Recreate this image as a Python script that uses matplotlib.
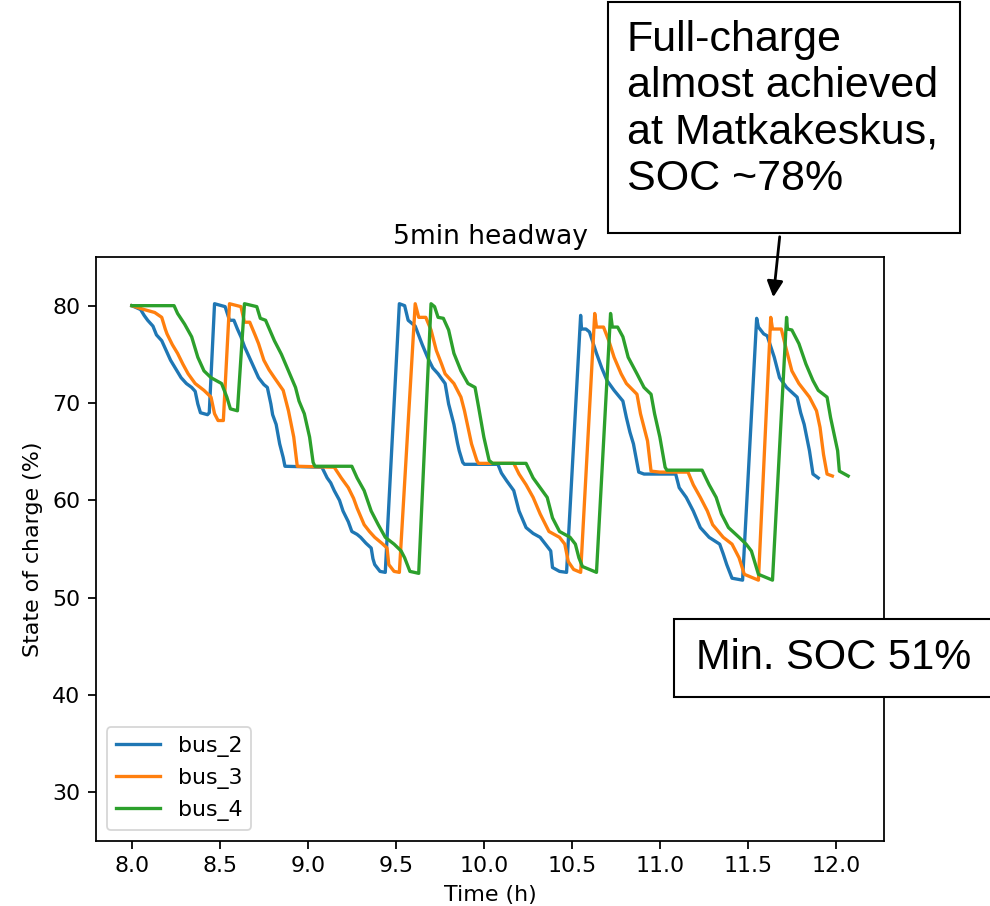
import matplotlib
matplotlib.use("Agg")
import matplotlib.pyplot as plt
from matplotlib.patches import Rectangle, FancyArrowPatch

#-----data-----
t_bus2 = [8.00, 8.05, 8.07, 8.09, 8.12, 8.14, 8.17, 8.20, 8.22, 8.25, 8.28, 8.31, 8.34, 8.36, 8.375, 8.39, 8.43, 8.44,
          8.47, 8.53, 8.555, 8.58, 8.60, 8.62, 8.64, 8.66, 8.69, 8.72, 8.75, 8.77, 8.79, 8.80, 8.82, 8.84, 8.86, 8.87,
          9.08, 9.11, 9.13, 9.15, 9.18, 9.20, 9.23, 9.25, 9.28, 9.30, 9.33, 9.36, 9.37, 9.38, 9.41, 9.44,
          9.52, 9.55, 9.57, 9.59, 9.61, 9.65, 9.68, 9.71, 9.74, 9.78, 9.80, 9.83, 9.85, 9.86, 9.88, 9.89,
          10.08, 10.10, 10.13, 10.17, 10.20, 10.24, 10.28, 10.32, 10.35, 10.38, 10.39, 10.43, 10.47,
          10.55, 10.555, 10.58, 10.60, 10.64, 10.67, 10.70, 10.74, 10.79, 10.81, 10.83, 10.85, 10.88, 10.91,
          11.09, 11.11, 11.15, 11.19, 11.23, 11.28, 11.34, 11.36, 11.38, 11.41, 11.47,
          11.55, 11.56, 11.59, 11.61, 11.65, 11.68, 11.72, 11.78, 11.80, 11.82, 11.85, 11.87, 11.90]
soc_bus2 = [80.0, 79.6, 79.0, 78.5, 77.9, 77.0, 76.4, 75.2, 74.4, 73.5, 72.6, 72.0, 71.6, 71.2, 69.9, 69.0, 68.8, 69.0,
            80.2, 79.9, 78.5, 78.5, 77.6, 76.8, 75.8, 75.0, 73.8, 72.6, 71.9, 71.6, 69.9, 68.8, 67.8, 65.8, 64.4, 63.5,
            63.4, 62.3, 61.8, 61.0, 60.0, 58.9, 57.8, 56.8, 56.5, 56.2, 55.6, 55.1, 54.0, 53.4, 52.7, 52.6,
            80.2, 80.0, 78.5, 78.2, 77.9, 76.0, 74.7, 73.6, 73.0, 72.0, 69.9, 67.8, 65.9, 65.1, 63.9, 63.7,
            63.7, 62.8, 62.0, 61.0, 58.9, 57.2, 56.6, 56.2, 55.5, 54.8, 53.1, 52.7, 52.6,
            79.0, 77.6, 77.6, 77.3, 75.1, 73.6, 72.3, 71.3, 70.2, 68.5, 67.0, 65.8, 62.9, 62.7,
            62.7, 61.3, 60.3, 58.9, 57.2, 56.2, 55.5, 54.5, 53.4, 52.0, 51.8,
            78.7, 77.8, 77.1, 76.9, 74.7, 72.6, 71.6, 70.6, 69.0, 67.8, 65.1, 62.7, 62.3]

t_bus3 = [8.00, 8.07, 8.13, 8.17, 8.19, 8.20, 8.23, 8.26, 8.29, 8.32, 8.36, 8.41, 8.45, 8.47, 8.49, 8.52,
          8.555, 8.62, 8.64, 8.67, 8.70, 8.72, 8.75, 8.78, 8.81, 8.86, 8.89, 8.92, 8.94,
          9.15, 9.19, 9.23, 9.26, 9.28, 9.32, 9.35, 9.38, 9.42, 9.45, 9.46, 9.49, 9.52,
          9.61, 9.63, 9.67, 9.70, 9.73, 9.76, 9.78, 9.83, 9.87, 9.89, 9.91, 9.93, 9.96, 9.97,
          10.17, 10.20, 10.24, 10.28, 10.32, 10.37, 10.43, 10.46, 10.48, 10.51, 10.55,
          10.63, 10.64, 10.68, 10.71, 10.74, 10.78, 10.81, 10.87, 10.89, 10.93, 10.95, 11.00,
          11.16, 11.19, 11.23, 11.27, 11.30, 11.36, 11.41, 11.45, 11.48, 11.56,
          11.63, 11.64, 11.69, 11.72, 11.75, 11.79, 11.85, 11.89, 11.91, 11.93, 11.95, 11.98]
soc_bus3 = [80.0, 79.6, 79.3, 78.8, 77.6, 77.1, 76.0, 75.1, 74.0, 73.0, 72.0, 71.3, 70.6, 68.9, 68.2, 68.2,
            80.2, 79.9, 78.3, 78.3, 77.0, 76.1, 74.4, 73.4, 72.6, 71.3, 69.2, 66.5, 63.5,
            63.4, 62.3, 61.3, 60.2, 59.2, 57.5, 56.8, 56.2, 55.6, 55.1, 53.4, 52.7, 52.6,
            80.2, 78.8, 78.8, 77.5, 75.4, 74.0, 73.0, 72.0, 70.6, 69.2, 67.5, 65.8, 64.1, 63.8,
            63.8, 62.7, 61.6, 60.3, 58.6, 56.8, 56.2, 55.5, 53.7, 52.9, 52.6,
            79.2, 77.8, 77.8, 76.4, 74.7, 73.0, 72.0, 70.9, 68.9, 66.1, 63.0, 62.9,
            62.9, 61.6, 60.3, 58.9, 57.5, 56.2, 55.5, 54.1, 52.4, 51.8,
            78.8, 77.6, 77.6, 75.4, 73.3, 72.0, 70.6, 69.2, 67.5, 64.7, 62.7, 62.5]

t_bus4 = [8.00, 8.24, 8.26, 8.30, 8.34, 8.375, 8.41, 8.45, 8.51, 8.54, 8.56, 8.60,
          8.64, 8.71, 8.73, 8.76, 8.81, 8.85, 8.89, 8.93, 8.95, 8.98, 9.01, 9.03, 9.04,
          9.25, 9.28, 9.32, 9.36, 9.40, 9.44, 9.49, 9.53, 9.55, 9.58, 9.63,
          9.70, 9.72, 9.74, 9.77, 9.80, 9.83, 9.87, 9.91, 9.95, 9.97, 10.00, 10.03, 10.05,
          10.24, 10.28, 10.32, 10.36, 10.39, 10.43, 10.49, 10.52, 10.54, 10.56, 10.60, 10.64,
          10.72, 10.73, 10.76, 10.79, 10.82, 10.87, 10.91, 10.95, 10.97, 11.00, 11.03, 11.04,
          11.24, 11.28, 11.32, 11.35, 11.39, 11.45, 11.49, 11.52, 11.56, 11.64,
          11.72, 11.725, 11.75, 11.79, 11.83, 11.87, 11.90, 11.95, 11.97, 12.01, 12.02, 12.07]
soc_bus4 = [80.0, 80.0, 79.2, 78.1, 76.8, 74.7, 73.3, 72.6, 72.0, 70.6, 69.4, 69.2,
            80.2, 79.9, 78.7, 78.5, 76.4, 75.0, 73.3, 71.6, 70.2, 68.9, 66.5, 63.9, 63.5,
            63.5, 62.3, 61.0, 58.9, 57.5, 56.2, 55.5, 54.8, 54.1, 52.7, 52.5,
            80.2, 79.9, 78.8, 78.7, 77.5, 75.1, 73.3, 72.0, 71.6, 69.6, 66.5, 64.1, 63.8,
            63.8, 62.3, 61.3, 60.3, 58.2, 56.8, 56.2, 55.5, 54.1, 53.2, 52.9, 52.6,
            79.2, 77.8, 77.8, 76.8, 74.7, 73.0, 71.6, 70.9, 68.9, 66.5, 63.4, 63.1,
            63.1, 61.6, 60.3, 58.6, 57.2, 56.2, 55.5, 54.8, 52.4, 51.8,
            78.8, 77.6, 77.5, 76.1, 74.0, 72.3, 71.3, 70.6, 68.5, 65.1, 63.0, 62.5]

bus_names = ["bus_2", "bus_3", "bus_4"]
note_top = "Full-charge\nalmost achieved\nat Matkakeskus,\nSOC ~78%"
note_min = "Min. SOC 51%"

#-----figure-----
W, H = 990, 906
fig = plt.figure(figsize=(W / 100, H / 100), dpi=100)
ax = fig.add_axes([96 / W, (H - 841) / H, (884 - 96) / W, (841 - 257) / H])

s = 1.59  # the plot was scaled up in the slide
ax.plot(t_bus2, soc_bus2, color="#1f77b4", lw=1.5 * s, label=bus_names[0])
ax.plot(t_bus3, soc_bus3, color="#ff7f0e", lw=1.5 * s, label=bus_names[1])
ax.plot(t_bus4, soc_bus4, color="#2ca02c", lw=1.5 * s, label=bus_names[2])

ax.set_ylim(25, 85)
ax.set_yticks([30, 40, 50, 60, 70, 80])
ax.set_xticks([8.0, 8.5, 9.0, 9.5, 10.0, 10.5, 11.0, 11.5, 12.0])
ax.tick_params(labelsize=10 * s, length=3.5 * s, width=0.8 * s, pad=3.5 * s)
for sp in ax.spines.values():
    sp.set_linewidth(0.8 * s)
ax.set_xlabel("Time (h)", fontsize=10 * s, labelpad=4 * s)
ax.set_ylabel("State of charge (%)", fontsize=10 * s, labelpad=4 * s)
ax.set_title("5min headway", fontsize=12 * s, pad=6 * s)
leg = ax.legend(loc="lower left", fontsize=10 * s, handlelength=2.0)
leg.get_frame().set_linewidth(0.8 * s)

#-----callout boxes (slide overlay)-----
box1 = Rectangle((608 / W, 1 - 233 / H), (960 - 608) / W, 231 / H, transform=fig.transFigure,
                 facecolor="white", edgecolor="black", lw=1.5, zorder=5)
fig.add_artist(box1)
fig.text(627 / W, 1 - 20 / H, note_top, ha="left", va="top", fontsize=31,
         family="Liberation Sans", linespacing=1.2, zorder=6)

box2 = Rectangle((674 / W, 1 - 697 / H), (995 - 674) / W, (697 - 619) / H, transform=fig.transFigure,
                 facecolor="white", edgecolor="black", lw=1.5, zorder=5)
fig.add_artist(box2)
fig.text(696 / W, 1 - 658 / H, note_min, ha="left", va="center", fontsize=30,
         family="Liberation Sans", zorder=6)

arrow = FancyArrowPatch((780 / W, 1 - 234 / H), (773 / W, 1 - 300 / H), transform=fig.transFigure,
                        arrowstyle="-|>", mutation_scale=24, color="black", lw=2, zorder=6)
fig.add_artist(arrow)

fig.savefig("out.png", dpi=100)
